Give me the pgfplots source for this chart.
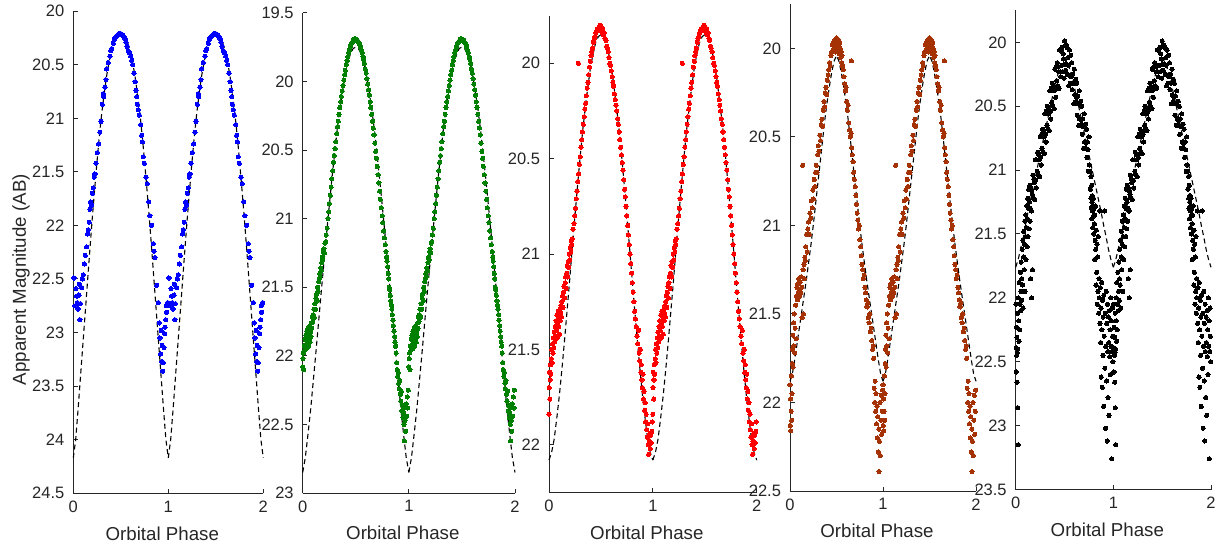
\documentclass[border=0pt]{standalone}
\usepackage{fontspec}
\setmainfont{Liberation Sans}
\usepackage{pgfplots}
\usepackage{pgfplotstable}
\pgfplotsset{compat=1.18}
\definecolor{mblue}{rgb}{0,0,1}
\definecolor{mgreen}{rgb}{0,0.5,0}
\definecolor{mred}{rgb}{1,0,0}
\definecolor{mbrown}{RGB}{165,50,5}
\definecolor{axgray}{RGB}{38,38,38}

% ---------------- model curves (phase 0..1) ----------------
\pgfplotstableread{
p m
0 24.17
0.025 24.00
0.05 23.72
0.075 23.42
0.1 23.12
0.125 22.82
0.15 22.52
0.175 22.22
0.2 21.93
0.225 21.66
0.25 21.40
0.275 21.16
0.3 20.95
0.325 20.77
0.35 20.61
0.375 20.48
0.4 20.38
0.425 20.30
0.45 20.25
0.475 20.22
0.5 20.21
0.525 20.22
0.55 20.25
0.575 20.30
0.6 20.38
0.625 20.48
0.65 20.61
0.675 20.77
0.7 20.95
0.725 21.16
0.75 21.40
0.775 21.66
0.8 21.93
0.825 22.22
0.85 22.52
0.875 22.82
0.9 23.12
0.925 23.42
0.95 23.72
0.975 24.00
1 24.17
}\curveA
\pgfplotstableread{
p m
0 22.85
0.025 22.74
0.05 22.57
0.075 22.39
0.1 22.18
0.125 21.97
0.15 21.75
0.175 21.53
0.2 21.32
0.225 21.11
0.25 20.91
0.275 20.71
0.3 20.53
0.325 20.35
0.35 20.20
0.375 20.07
0.4 19.95
0.425 19.86
0.45 19.80
0.475 19.76
0.5 19.75
0.525 19.76
0.55 19.80
0.575 19.86
0.6 19.95
0.625 20.07
0.65 20.20
0.675 20.35
0.7 20.53
0.725 20.71
0.75 20.91
0.775 21.11
0.8 21.32
0.825 21.53
0.85 21.75
0.875 21.97
0.9 22.18
0.925 22.39
0.95 22.57
0.975 22.74
1 22.85
}\curveB
\pgfplotstableread{
p m
0 22.08
0.025 22.04
0.05 21.97
0.075 21.86
0.1 21.74
0.125 21.60
0.15 21.45
0.175 21.29
0.2 21.13
0.225 20.96
0.25 20.80
0.275 20.64
0.3 20.49
0.325 20.35
0.35 20.23
0.375 20.12
0.4 20.02
0.425 19.95
0.45 19.89
0.475 19.86
0.5 19.85
0.525 19.86
0.55 19.89
0.575 19.95
0.6 20.02
0.625 20.12
0.65 20.23
0.675 20.35
0.7 20.49
0.725 20.64
0.75 20.80
0.775 20.96
0.8 21.13
0.825 21.29
0.85 21.45
0.875 21.60
0.9 21.74
0.925 21.86
0.95 21.97
0.975 22.04
1 22.08
}\curveC
\pgfplotstableread{
p m
0 21.88
0.025 21.84
0.05 21.76
0.075 21.67
0.1 21.58
0.125 21.49
0.15 21.40
0.175 21.31
0.2 21.21
0.225 21.11
0.25 21.00
0.275 20.88
0.3 20.76
0.325 20.64
0.35 20.52
0.375 20.40
0.4 20.30
0.425 20.21
0.45 20.13
0.475 20.07
0.5 20.04
0.525 20.07
0.55 20.13
0.575 20.21
0.6 20.30
0.625 20.40
0.65 20.52
0.675 20.64
0.7 20.76
0.725 20.88
0.75 21.00
0.775 21.11
0.8 21.21
0.825 21.31
0.85 21.40
0.875 21.49
0.9 21.58
0.925 21.67
0.95 21.76
0.975 21.84
1 21.88
}\curveD
\pgfplotstableread{
p m
0 21.76
0.025 21.70
0.05 21.62
0.075 21.52
0.1 21.43
0.125 21.33
0.15 21.24
0.175 21.15
0.2 21.06
0.225 20.97
0.25 20.88
0.275 20.79
0.3 20.70
0.325 20.61
0.35 20.52
0.375 20.43
0.4 20.35
0.425 20.27
0.45 20.20
0.475 20.15
0.5 20.13
0.525 20.15
0.55 20.20
0.575 20.27
0.6 20.35
0.625 20.43
0.65 20.52
0.675 20.61
0.7 20.70
0.725 20.79
0.75 20.88
0.775 20.97
0.8 21.06
0.825 21.15
0.85 21.24
0.875 21.33
0.9 21.43
0.925 21.52
0.95 21.62
0.975 21.70
1 21.76
}\curveE

% ---------------- observations (phase 0..1) ----------------
\pgfplotstableread{
p m
0.007 22.49
0.018 22.75
0.028 22.59
0.035 22.66
0.042 22.72
0.050 22.78
0.060 22.65
0.065 22.55
0.070 22.88
0.075 22.73
0.088 22.58
0.095 22.50
0.105 22.46
0.116 22.36
0.126 22.28
0.140 22.20
0.150 22.08
0.158 22.04
0.168 21.97
0.175 21.85
0.182 21.78
0.193 21.81
0.200 21.70
0.210 21.65
0.220 21.55
0.228 21.52
0.239 21.42
0.253 21.32
0.267 21.24
0.280 21.13
0.291 21.03
0.305 20.87
0.316 20.77
0.322 20.80
0.333 20.71
0.344 20.64
0.351 20.54
0.368 20.48
0.386 20.42
0.395 20.37
0.404 20.35
0.421 20.30
0.430 20.27
0.439 20.25
0.448 20.24
0.456 20.23
0.470 20.22
0.480 20.21
0.490 20.21
0.500 20.21
0.509 20.22
0.520 20.22
0.533 20.24
0.545 20.26
0.554 20.29
0.566 20.33
0.579 20.37
0.592 20.39
0.604 20.42
0.615 20.46
0.625 20.50
0.639 20.58
0.650 20.66
0.660 20.74
0.668 20.80
0.674 20.87
0.685 20.92
0.695 20.97
0.709 21.06
0.719 21.16
0.728 21.22
0.737 21.36
0.747 21.42
0.765 21.55
0.779 21.61
0.793 21.78
0.807 21.91
0.825 22.00
0.842 22.17
0.850 22.24
0.860 22.30
0.877 22.56
0.895 22.72
0.905 22.91
0.912 23.05
0.919 23.20
0.925 22.98
0.930 23.27
0.935 23.12
0.940 23.36
0.947 23.28
0.954 23.14
0.961 23.01
0.966 22.95
0.972 22.88
0.977 22.75
0.982 22.81
0.993 22.72
}\obsA
\pgfplotstableread{
p m
0.000 22.08
0.003 22.02
0.006 21.98
0.010 22.10
0.014 21.93
0.018 21.96
0.022 21.88
0.026 21.92
0.030 21.85
0.034 21.95
0.038 21.82
0.042 21.90
0.046 21.87
0.050 21.80
0.054 21.93
0.058 21.84
0.062 21.88
0.066 21.78
0.070 21.90
0.074 21.83
0.078 21.86
0.082 21.76
0.086 21.80
0.090 21.72
0.095 21.75
0.100 21.70
0.105 21.66
0.110 21.72
0.115 21.62
0.120 21.66
0.125 21.58
0.130 21.55
0.135 21.60
0.140 21.50
0.145 21.53
0.150 21.46
0.155 21.44
0.160 21.40
0.165 21.42
0.170 21.36
0.175 21.38
0.180 21.32
0.185 21.28
0.190 21.30
0.195 21.24
0.200 21.22
0.205 21.25
0.210 21.18
0.215 21.17
0.222 21.12
0.230 21.07
0.238 21.00
0.245 20.95
0.252 20.89
0.260 20.83
0.268 20.77
0.275 20.71
0.283 20.65
0.290 20.59
0.298 20.54
0.305 20.49
0.312 20.44
0.320 20.38
0.328 20.33
0.335 20.29
0.342 20.24
0.350 20.19
0.358 20.15
0.365 20.11
0.372 20.07
0.380 20.03
0.388 19.99
0.395 19.95
0.402 19.92
0.410 19.88
0.418 19.85
0.425 19.82
0.432 19.79
0.440 19.77
0.448 19.75
0.455 19.73
0.462 19.72
0.470 19.71
0.478 19.70
0.485 19.69
0.492 19.70
0.500 19.69
0.508 19.70
0.515 19.70
0.522 19.71
0.530 19.72
0.538 19.73
0.545 19.75
0.552 19.77
0.560 19.79
0.568 19.82
0.575 19.84
0.582 19.87
0.590 19.91
0.598 19.94
0.605 19.98
0.612 20.02
0.620 20.06
0.628 20.10
0.635 20.15
0.642 20.19
0.650 20.24
0.658 20.29
0.665 20.34
0.672 20.39
0.680 20.45
0.688 20.51
0.695 20.56
0.702 20.62
0.710 20.68
0.718 20.74
0.725 20.80
0.732 20.86
0.740 20.92
0.748 20.98
0.755 21.03
0.762 21.09
0.770 21.14
0.778 21.19
0.785 21.24
0.790 21.28
0.795 21.31
0.800 21.35
0.805 21.40
0.810 21.44
0.815 21.50
0.820 21.52
0.825 21.56
0.830 21.60
0.835 21.63
0.840 21.66
0.845 21.70
0.850 21.74
0.855 21.78
0.860 21.82
0.865 21.86
0.870 21.90
0.875 21.93
0.880 21.98
0.885 22.05
0.890 22.10
0.895 22.15
0.900 22.12
0.905 22.20
0.910 22.24
0.915 22.18
0.920 22.28
0.925 22.33
0.930 22.26
0.935 22.40
0.940 22.36
0.945 22.45
0.950 22.42
0.955 22.50
0.958 22.62
0.960 22.38
0.965 22.47
0.970 22.55
0.975 22.35
0.980 22.44
0.985 22.30
0.990 22.38
0.995 22.25
}\obsB
\pgfplotstableread{
p m
0.000 21.84
0.002 21.70
0.005 21.62
0.008 21.76
0.011 21.66
0.014 21.58
0.018 21.63
0.022 21.55
0.026 21.50
0.030 21.57
0.034 21.47
0.038 21.52
0.042 21.44
0.046 21.49
0.050 21.41
0.055 21.46
0.060 21.38
0.064 21.43
0.068 21.35
0.072 21.40
0.076 21.32
0.080 21.44
0.084 21.36
0.088 21.30
0.092 21.38
0.096 21.33
0.100 21.42
0.104 21.29
0.108 21.35
0.112 21.31
0.116 21.27
0.120 21.33
0.125 21.25
0.130 21.22
0.135 21.28
0.140 21.20
0.145 21.17
0.150 21.23
0.155 21.15
0.160 21.12
0.165 21.18
0.170 21.10
0.175 21.06
0.180 21.12
0.185 21.04
0.190 21.07
0.195 21.00
0.200 21.03
0.205 20.97
0.210 20.99
0.215 20.93
0.220 20.95
0.225 20.92
0.232 20.87
0.240 20.84
0.248 20.80
0.255 20.76
0.262 20.71
0.270 20.67
0.278 20.62
0.283 20.00
0.285 20.58
0.292 20.53
0.300 20.49
0.308 20.44
0.315 20.40
0.322 20.36
0.330 20.32
0.338 20.28
0.345 20.24
0.352 20.21
0.360 20.17
0.368 20.13
0.375 20.10
0.382 20.06
0.390 20.02
0.398 19.99
0.405 19.96
0.412 19.94
0.420 19.92
0.428 19.89
0.435 19.87
0.442 19.86
0.450 19.84
0.458 19.83
0.465 19.82
0.472 19.83
0.480 19.81
0.488 19.82
0.495 19.80
0.500 19.83
0.505 19.81
0.512 19.84
0.518 19.82
0.525 19.85
0.532 19.84
0.540 19.87
0.548 19.88
0.555 19.91
0.562 19.92
0.570 19.94
0.578 19.97
0.585 20.00
0.592 20.01
0.600 20.04
0.608 20.07
0.615 20.10
0.622 20.12
0.630 20.16
0.638 20.19
0.645 20.22
0.652 20.25
0.660 20.29
0.668 20.32
0.675 20.36
0.682 20.40
0.690 20.44
0.698 20.48
0.705 20.52
0.712 20.56
0.720 20.61
0.728 20.66
0.735 20.70
0.742 20.75
0.750 20.80
0.758 20.85
0.765 20.90
0.772 20.95
0.780 21.00
0.788 21.05
0.795 21.10
0.802 21.15
0.810 21.20
0.818 21.25
0.825 21.30
0.832 21.34
0.840 21.38
0.848 21.43
0.855 21.47
0.862 21.40
0.868 21.52
0.875 21.56
0.880 21.50
0.885 21.62
0.890 21.58
0.895 21.66
0.900 21.70
0.905 21.63
0.910 21.76
0.915 21.72
0.920 21.82
0.925 21.78
0.930 21.88
0.935 21.84
0.940 21.92
0.945 21.96
0.950 21.89
0.955 22.00
0.960 22.05
0.965 21.98
0.970 21.94
0.975 22.02
0.980 21.95
0.985 21.99
0.990 21.93
0.995 21.88
}\obsC
\pgfplotstableread{
p m
0.000 21.90
0.003 22.13
0.006 21.98
0.009 22.16
0.012 22.05
0.015 21.85
0.018 22.10
0.021 21.95
0.024 21.78
0.027 21.70
0.030 21.62
0.034 21.80
0.038 21.55
0.042 21.68
0.046 21.50
0.050 21.72
0.055 21.58
0.060 21.45
0.065 21.64
0.070 21.40
0.075 21.35
0.080 21.42
0.085 21.33
0.090 21.38
0.095 21.30
0.100 21.36
0.105 21.40
0.110 21.32
0.115 21.38
0.120 21.29
0.125 21.35
0.130 21.52
0.136 20.66
0.140 21.25
0.145 21.50
0.150 21.22
0.155 21.30
0.160 21.18
0.165 21.20
0.170 21.12
0.178 21.05
0.185 21.15
0.192 21.02
0.200 20.98
0.208 21.05
0.215 20.93
0.222 20.96
0.230 20.86
0.238 20.90
0.245 20.80
0.252 20.85
0.260 20.74
0.268 20.78
0.275 20.70
0.282 20.66
0.290 20.70
0.298 20.60
0.305 20.55
0.312 20.58
0.320 20.49
0.328 20.52
0.335 20.43
0.342 20.40
0.350 20.44
0.358 20.35
0.365 20.30
0.372 20.33
0.380 20.25
0.388 20.22
0.395 20.26
0.402 20.18
0.410 20.15
0.418 20.12
0.425 20.08
0.432 20.10
0.440 20.04
0.448 20.02
0.455 19.98
0.460 20.01
0.465 19.97
0.470 20.00
0.475 19.96
0.480 19.99
0.485 19.95
0.490 20.02
0.495 19.97
0.500 19.94
0.505 19.99
0.510 19.96
0.515 20.01
0.520 19.95
0.525 19.98
0.530 20.03
0.535 19.97
0.540 20.00
0.545 20.05
0.550 20.02
0.555 20.08
0.560 20.04
0.565 20.10
0.572 20.12
0.580 20.16
0.588 20.20
0.595 20.24
0.602 20.22
0.610 20.30
0.618 20.35
0.625 20.32
0.632 20.42
0.640 20.46
0.648 20.50
0.655 20.48
0.660 20.07
0.662 20.56
0.670 20.60
0.678 20.64
0.685 20.70
0.692 20.74
0.700 20.78
0.708 20.83
0.715 20.88
0.722 20.93
0.730 20.97
0.738 21.02
0.745 21.00
0.752 21.08
0.760 21.12
0.768 21.17
0.775 21.22
0.782 21.25
0.790 21.30
0.798 21.28
0.805 21.35
0.812 21.38
0.820 21.42
0.828 21.46
0.835 21.44
0.842 21.52
0.850 21.55
0.858 21.50
0.865 21.60
0.872 21.58
0.880 21.65
0.888 21.70
0.895 21.68
0.900 21.75
0.905 21.92
0.910 22.00
0.915 21.88
0.920 22.05
0.925 21.95
0.930 22.12
0.935 22.02
0.940 22.20
0.945 22.08
0.950 22.28
0.955 22.15
0.957 22.39
0.962 22.22
0.967 22.00
0.972 22.30
0.977 22.10
0.982 21.96
0.987 22.18
0.992 22.05
0.996 21.93
}\obsD
\pgfplotstableread{
p m
0.002 22.05
0.004 22.39
0.006 22.58
0.008 22.23
0.010 22.45
0.012 22.31
0.014 22.66
0.016 22.43
0.018 22.12
0.020 22.86
0.022 22.40
0.026 23.15
0.028 22.00
0.030 22.18
0.033 22.34
0.036 21.88
0.040 22.25
0.043 22.05
0.046 21.80
0.050 22.10
0.053 21.95
0.056 21.72
0.060 22.02
0.063 21.85
0.066 21.62
0.070 21.90
0.073 21.55
0.076 22.08
0.080 21.68
0.083 21.48
0.086 21.78
0.090 21.58
0.093 21.40
0.096 21.95
0.100 21.52
0.103 21.35
0.106 21.70
0.110 21.45
0.113 21.28
0.116 21.60
0.120 21.38
0.123 21.22
0.126 21.52
0.130 21.30
0.133 21.15
0.136 21.46
0.140 21.25
0.143 21.12
0.146 21.40
0.150 21.30
0.152 21.85
0.155 21.14
0.160 21.32
0.162 22.00
0.165 21.16
0.170 21.19
0.172 21.78
0.175 21.04
0.180 21.22
0.185 21.07
0.190 21.10
0.195 21.23
0.200 20.92
0.205 21.08
0.210 21.14
0.215 20.92
0.220 21.01
0.225 20.86
0.230 21.04
0.235 20.88
0.240 20.92
0.245 21.05
0.250 20.74
0.255 20.90
0.260 20.96
0.265 20.72
0.270 20.83
0.275 20.68
0.280 20.86
0.285 20.70
0.290 20.74
0.295 20.87
0.300 20.56
0.305 20.72
0.310 20.78
0.315 20.54
0.320 20.65
0.325 20.50
0.330 20.68
0.335 20.52
0.340 20.56
0.345 20.69
0.350 20.38
0.355 20.54
0.360 20.60
0.365 20.36
0.370 20.47
0.375 20.32
0.380 20.50
0.385 20.35
0.390 20.38
0.395 20.52
0.400 20.21
0.405 20.37
0.410 20.43
0.415 20.19
0.420 20.30
0.425 20.16
0.430 20.34
0.435 20.19
0.440 20.23
0.445 20.36
0.450 20.06
0.455 20.23
0.460 20.27
0.465 20.06
0.470 20.18
0.475 20.04
0.480 20.23
0.485 20.09
0.490 20.13
0.495 20.28
0.500 19.99
0.505 20.17
0.510 20.22
0.515 20.02
0.520 20.17
0.525 20.04
0.530 20.25
0.535 20.12
0.540 20.18
0.545 20.34
0.550 20.06
0.555 20.26
0.560 20.32
0.565 20.10
0.570 20.27
0.575 20.16
0.580 20.37
0.585 20.25
0.590 20.32
0.595 20.48
0.600 20.21
0.605 20.41
0.610 20.47
0.615 20.29
0.620 20.43
0.625 20.32
0.630 20.57
0.635 20.42
0.640 20.48
0.645 20.65
0.650 20.38
0.655 20.60
0.660 20.65
0.665 20.46
0.670 20.61
0.675 20.50
0.680 20.72
0.685 20.60
0.690 20.66
0.695 20.83
0.700 20.56
0.705 20.78
0.710 20.83
0.715 20.64
0.720 20.79
0.725 20.68
0.730 20.90
0.735 20.78
0.740 20.84
0.745 21.01
0.750 20.74
0.755 20.96
0.760 21.01
0.765 21.15
0.770 21.05
0.772 21.22
0.775 21.30
0.778 21.12
0.780 21.38
0.782 21.25
0.785 21.20
0.788 21.32
0.790 21.45
0.792 21.28
0.795 21.22
0.798 21.36
0.800 21.50
0.803 21.30
0.806 21.42
0.808 21.70
0.810 21.35
0.813 21.55
0.816 21.28
0.820 21.62
0.823 21.90
0.826 21.47
0.830 21.80
0.833 21.58
0.836 22.05
0.840 21.68
0.843 21.95
0.846 21.52
0.850 22.12
0.853 21.85
0.856 22.00
0.860 21.32
0.863 22.20
0.866 21.92
0.870 22.35
0.873 22.08
0.876 22.62
0.880 21.88
0.883 22.25
0.886 22.70
0.890 22.02
0.893 22.45
0.896 22.15
0.900 22.85
0.903 21.98
0.906 22.30
0.910 21.32
0.913 22.55
0.916 22.12
0.920 23.02
0.923 22.38
0.926 21.95
0.930 22.65
0.933 22.20
0.936 23.12
0.940 22.05
0.943 22.42
0.946 22.78
0.950 22.15
0.953 22.35
0.956 22.92
0.960 22.10
0.963 22.46
0.966 22.25
0.970 22.60
0.973 22.00
0.976 22.38
0.980 22.18
0.983 23.26
0.986 22.42
0.990 22.08
0.993 22.30
0.996 22.50
}\obsE

\pgfplotsset{
  panel/.style={
    scale only axis,
    anchor=south west,
    axis lines*=left,
    axis line style={-, axgray, line width=1pt},
    y dir=reverse,
    xmin=0, xmax=2, xtick={0,1,2},
    tick align=inside,
    major tick length=4.5pt,
    tick style={axgray, line width=1pt},
    ticklabel style={font=\fontsize{16.5}{16.5}\selectfont, text=axgray},
    yticklabel style={xshift=-5.5pt},
    xticklabel style={yshift=-4pt},
    /pgf/number format/assume math mode=true,
    xlabel={Orbital Phase},
    xlabel style={font=\fontsize{18.7}{18.7}\selectfont, text=axgray,
      at={(axis description cs:0.5,0)}, anchor=base, yshift=-46.7pt, xshift=-6pt},
    clip=false,
  },
  dots/.style={only marks, color=#1, mark=*, mark size=2.1pt,
    mark options={solid, fill=#1, draw=#1, line width=0pt}},
  model/.style={black, dash pattern=on 5pt off 3.5pt, line width=1.1pt},
}

\begin{document}
\begin{tikzpicture}
\useasboundingbox (0pt,0pt) rectangle (1221pt,546pt);

% Panel 1
\begin{axis}[panel, at={(73.3pt,52.7pt)}, width=190pt, height=482.2pt,
  ymin=20, ymax=24.5, ytick={20,20.5,...,24.5},
  ylabel={Apparent Magnitude (AB)},
  ylabel style={font=\fontsize{18.7}{18.7}\selectfont, text=axgray,
    at={(axis description cs:-0.249,0.443)}, anchor=base}]
  \addplot[dots=mblue] table[x=p, y=m] {\obsA};
  \addplot[dots=mblue] table[x expr=\thisrow{p}+1, y=m] {\obsA};
  \addplot[model] table[x=p, y=m] {\curveA};
  \addplot[model] table[x expr=\thisrow{p}+1, y=m] {\curveA};
\end{axis}

% Panel 2
\begin{axis}[panel, at={(302.7pt,53pt)}, width=212.3pt, height=480.2pt,
  ymin=19.5, ymax=23, ytick={19.5,20,...,23}]
  \addplot[dots=mgreen] table[x=p, y=m] {\obsB};
  \addplot[dots=mgreen] table[x expr=\thisrow{p}+1, y=m] {\obsB};
  \addplot[model] table[x=p, y=m] {\curveB};
  \addplot[model] table[x expr=\thisrow{p}+1, y=m] {\curveB};
\end{axis}

% Panel 3
\begin{axis}[panel, at={(549pt,53.5pt)}, width=207.7pt, height=476.9pt,
  ymin=19.75, ymax=22.25, ytick={20,20.5,...,22}]
  \addplot[dots=mred] table[x=p, y=m] {\obsC};
  \addplot[dots=mred] table[x expr=\thisrow{p}+1, y=m] {\obsC};
  \addplot[model] table[x=p, y=m] {\curveC};
  \addplot[model] table[x expr=\thisrow{p}+1, y=m] {\curveC};
\end{axis}

% Panel 4
\begin{axis}[panel, at={(790pt,55pt)}, width=186pt, height=486.8pt,
  ymin=19.75, ymax=22.5, ytick={20,20.5,...,22.5}]
  \addplot[dots=mbrown] table[x=p, y=m] {\obsD};
  \addplot[dots=mbrown] table[x expr=\thisrow{p}+1, y=m] {\obsD};
  \addplot[model] table[x=p, y=m] {\curveD};
  \addplot[model] table[x expr=\thisrow{p}+1, y=m] {\curveD};
\end{axis}

% Panel 5
\begin{axis}[panel, at={(1015.7pt,56.5pt)}, width=195.3pt, height=479.1pt,
  ymin=19.75, ymax=23.5, ytick={20,20.5,...,23.5}]
  \addplot[dots=black] table[x=p, y=m] {\obsE};
  \addplot[dots=black] table[x expr=\thisrow{p}+1, y=m] {\obsE};
  \addplot[model] table[x=p, y=m] {\curveE};
  \addplot[model] table[x expr=\thisrow{p}+1, y=m] {\curveE};
\end{axis}
\end{tikzpicture}
\end{document}
